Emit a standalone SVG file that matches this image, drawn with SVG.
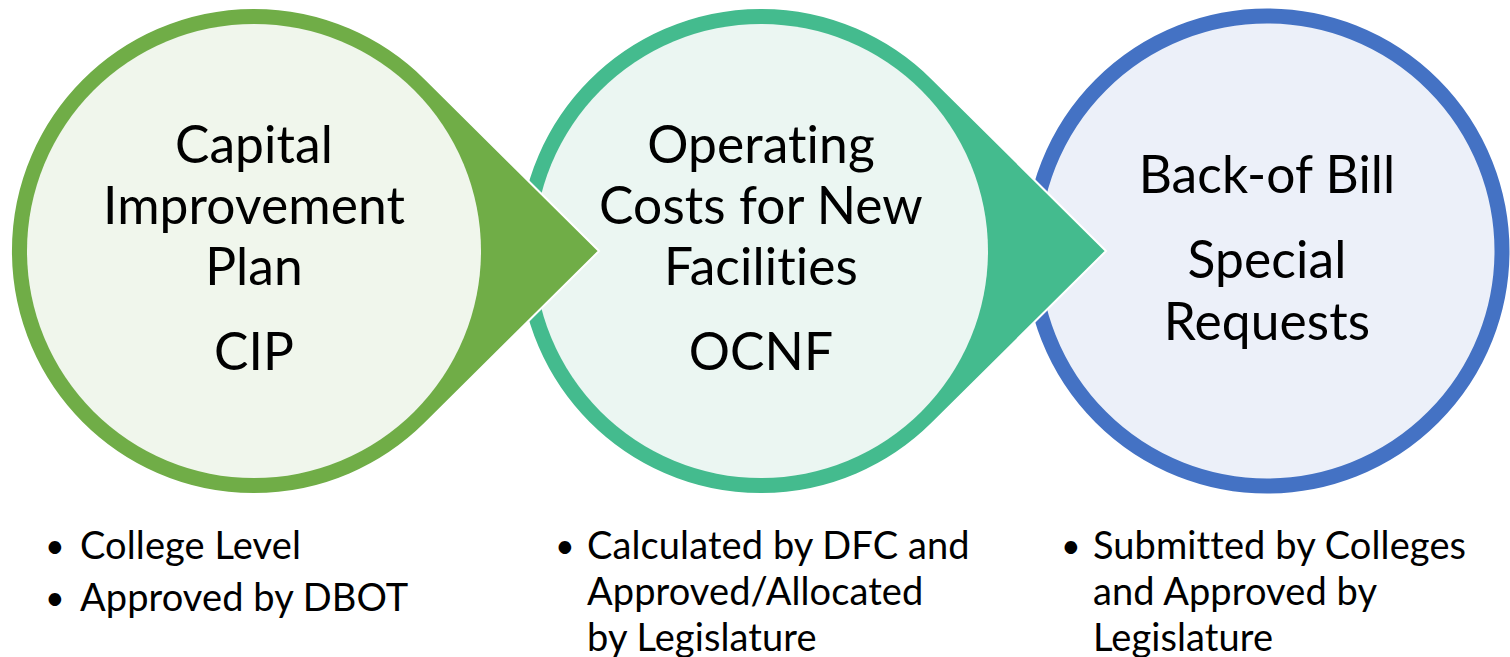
<svg xmlns="http://www.w3.org/2000/svg" width="1510" height="657" viewBox="0 0 1510 657">
  <style>
    text { font-variant-ligatures: none; font-feature-settings: "liga" 0, "clig" 0, "dlig" 0; letter-spacing: 0.1px; }
    .title { font-family: Lato, "Open Sans", sans-serif; font-size: 51.5px; fill: #000; text-anchor: middle; }
    .bul { font-family: Lato, "Open Sans", sans-serif; font-size: 38px; fill: #000; }
    .dot { font-family: Lato, "Open Sans", sans-serif; font-size: 34px; fill: #000; }
    .drop { stroke: #fff; stroke-width: 2; }
  </style>
  <rect width="1510" height="657" fill="#fff"/>
  <g id="connectors"/>
  <g id="node-backofbill">
    <circle cx="1267" cy="251" r="235" fill="#ECF0F9" stroke="#4472C4" stroke-width="15"/>
    <text class="title" x="1267" y="193">Back-of Bill</text>
    <text class="title" x="1267" y="278">Special</text>
    <text class="title" x="1267" y="340">Requests</text>
  </g>
  <g id="node-ocnf">
    <path class="drop" fill="#44BB8E" d="M1106 251 L932.1 78.5 A243 243 0 1 0 932.1 423.5 Z"/>
    <circle cx="761" cy="251" r="227" fill="#EBF6F2"/>
    <text class="title" x="761" y="163">Operating</text>
    <text class="title" x="761" y="224">Costs for New</text>
    <text class="title" x="761" y="285">Facilities</text>
    <text class="title" x="761" y="370">OCNF</text>
  </g>
  <g id="node-cip">
    <path class="drop" fill="#70AD47" d="M599 251 L425.1 78.5 A243 243 0 1 0 425.1 423.5 Z"/>
    <circle cx="254" cy="251" r="227" fill="#F0F6EC"/>
    <text class="title" x="254" y="163">Capital</text>
    <text class="title" x="254" y="224">Improvement</text>
    <text class="title" x="254" y="285">Plan</text>
    <text class="title" x="254" y="370">CIP</text>
  </g>
  <g id="list-cip">
    <text class="dot" x="45" y="558">•</text>
    <text class="bul" x="80" y="559">College Level</text>
    <text class="dot" x="45" y="610">•</text>
    <text class="bul" x="80" y="611">Approved by DBOT</text>
  </g>
  <g id="list-ocnf">
    <text class="dot" x="555" y="558">•</text>
    <text class="bul" x="587" y="559">Calculated by DFC and</text>
    <text class="bul" x="587" y="605">Approved/Allocated</text>
    <text class="bul" x="587" y="651">by Legislature</text>
  </g>
  <g id="list-backofbill">
    <text class="dot" x="1061" y="558">•</text>
    <text class="bul" x="1093" y="559">Submitted by Colleges</text>
    <text class="bul" x="1093" y="605">and Approved by</text>
    <text class="bul" x="1093" y="651">Legislature</text>
  </g>
</svg>
